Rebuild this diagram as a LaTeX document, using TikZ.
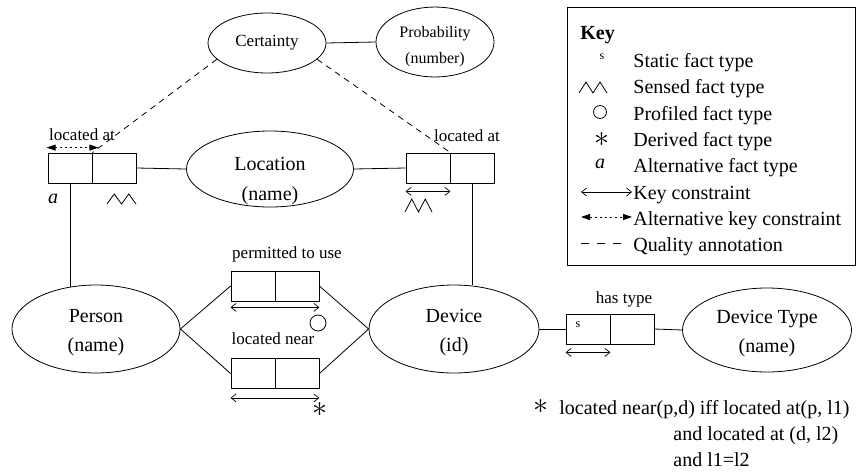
\documentclass[tikz,border=0pt]{standalone}
\usepackage{graphicx}
\usepackage{fontspec}
\setmainfont{Liberation Serif}
\usetikzlibrary{shapes.geometric,arrows.meta,calc}
\newcommand{\topstrut}[1]{\rule{0pt}{#1}}
\begin{document}
\begin{tikzpicture}[x=1pt,y=-1pt,line width=0.8pt,
  ent/.style={draw,ellipse,inner sep=0pt,align=center,font=\fontsize{20}{29}\selectfont},
  role/.style={draw,rectangle,minimum width=44pt,minimum height=30pt,inner sep=0pt},
  lbl/.style={font=\fontsize{17}{20}\selectfont,inner sep=0pt,anchor=base},
  kt/.style={font=\fontsize{20}{24}\selectfont,inner sep=0pt,anchor=base west},
  keyc/.style={{Straight Barb[length=5pt,width=8pt]}-{Straight Barb[length=5pt,width=8pt]},line width=0.7pt},
  altkeyc/.style={{Triangle[length=9pt,width=6pt]}-{Triangle[length=9pt,width=6pt]},dash pattern=on 2pt off 3pt,line width=0.9pt},
  qual/.style={dash pattern=on 6pt off 5pt},
  sym/.style={inner sep=0pt}
]
\useasboundingbox (0,0) rectangle (858,474);

% entity ellipses
\node[ent,font=\fontsize{17}{20}\selectfont,minimum width=118pt,minimum height=60pt] (cert) at (267,43) {Certainty};
\node[ent,font=\fontsize{16}{26}\selectfont,minimum width=118pt,minimum height=64pt] (prob) at (435,42) {\topstrut{20pt}Probability\\(number)};
\node[ent,minimum width=167pt,minimum height=76pt] (loc) at (270,169) {};
\node[font=\fontsize{20}{30}\selectfont,align=center,inner sep=0pt] (loctext) at (270,181) {Location\\(name)};
\node[ent,minimum width=168pt,minimum height=88pt] (person) at (96,329) {\topstrut{21pt}Person\\(name)};
\node[ent,minimum width=170pt,minimum height=88pt] (dev) at (454,329) {\topstrut{21pt}Device\\(id)};
\node[ent,minimum width=169pt,minimum height=84pt] (dtype) at (767,330) {\topstrut{21pt}Device Type\\(name)};

% fact type role boxes
\node[role] (la1) at (70,168) {};
\node[role] (la2) at (114,168) {};
\node[role] (ra1) at (428,168) {};
\node[role] (ra2) at (472,168) {};
\node[role] (p1) at (253,286) {};
\node[role] (p2) at (297,286) {};
\node[role] (n1) at (253,373.5) {};
\node[role] (n2) at (297,373.5) {};
\node[role] (h1) at (588,329) {};
\node[role] (h2) at (632,329) {};
\node[font=\fontsize{12}{12}\selectfont,inner sep=0pt] (hs) at (578,325) {s};

% labels
\node[lbl] (lat1) at (82,140) {located at};
\node[lbl] (lat2) at (467,141) {located at};
\node[lbl] (lperm) at (287,258) {permitted to use};
\node[lbl] (lnear) at (273,344) {located near};
\node[lbl] (lhas) at (624,303) {has type};

% connectors
\draw (cert.east) -- (prob.west);
\draw (la2.east) -- (loc.west);
\draw (loc.east) -- (ra1.west);
\draw (la1.south) -- ([yshift=-2pt]la1.south |- person.north);
\draw (ra2.south) -- (ra2.south |- dev.north);
\draw (person.east) -- (p1.west);
\draw (person.east) -- (n1.west);
\draw (p2.east) -- (dev.west);
\draw (n2.east) -- (dev.west);
\draw (dev.east) -- (h1.west);
\draw (h2.east) -- (dtype.west);
\draw[qual] (cert.198) -- (la1.north east);
\draw[qual] (cert.342) -- (ra1.north east);

% constraints
\draw[altkeyc] ([xshift=-1pt,yshift=5pt]la1.north west) -- ([xshift=6pt,yshift=5pt]la1.north east);
\draw[keyc] ([yshift=-8pt]ra1.south west) -- ([yshift=-8pt]ra1.south east);
\draw[keyc] ([yshift=-6pt]p1.south west) -- ([yshift=-6pt]p2.south east);
\draw[keyc] ([yshift=-9pt]n1.south west) -- ([yshift=-9pt]n2.south east);
\draw[keyc] ([yshift=-8pt]h1.south west) -- ([yshift=-8pt]h1.south east);

% annotations
\draw (107,204) -- (114.25,194) -- (121.5,204) -- (128.75,194) -- (136,204);
\draw (405,212) -- (411.75,199) -- (418.5,212) -- (425.25,199) -- (432,212);
\node[sym,font=\itshape\fontsize{20}{20}\selectfont] (alt) at (53,199) {a};
\node[draw,circle,minimum size=16pt,inner sep=0pt] (prof) at (318,323) {};
\node[sym] (der) at (320,410) {\scalebox{3}{$\ast$}};

% key
\node[draw,rectangle,minimum width=288pt,minimum height=258pt,inner sep=0pt,anchor=north west] (keybox) at (567,7) {};
\node[font=\bfseries\fontsize{20}{20}\selectfont,inner sep=0pt,anchor=base west] (keyt) at (580,39) {Key};
\node[sym,font=\fontsize{12}{12}\selectfont] (ks) at (602,57) {s};
\draw (579,93) -- (586,82) -- (593,93) -- (600,82) -- (607,93);
\node[draw,circle,minimum size=13pt,inner sep=0pt] (kcirc) at (600,112) {};
\node[sym] (kast) at (602,140) {\scalebox{3}{$\ast$}};
\node[sym,font=\itshape\fontsize{20}{20}\selectfont] (ka) at (600,164) {a};
\coordinate (kk1) at (581,192);
\coordinate (kk2) at (632,192);
\draw[keyc] (kk1) -- (kk2);
\coordinate (ka1) at (581,217);
\coordinate (ka2) at (632,217);
\draw[altkeyc] (ka1) -- (ka2);
\coordinate (kq1) at (581,243);
\coordinate (kq2) at (621,243);
\draw[dash pattern=on 8pt off 8pt] (kq1) -- (kq2);
\node[kt] (t1) at (633,67.5) {Static fact type};
\node[kt] (t2) at (633,93.8) {Sensed fact type};
\node[kt] (t3) at (633,120.1) {Profiled fact type};
\node[kt] (t4) at (633,146.4) {Derived fact type};
\node[kt] (t5) at (633,172.7) {Alternative fact type};
\node[kt] (t6) at (633,199) {Key constraint};
\node[kt] (t7) at (633,225.3) {Alternative key constraint};
\node[kt] (t8) at (633,251.6) {Quality annotation};

% footnote
\node[sym] (fast) at (541,407) {\scalebox{3}{$\ast$}};
\node[kt] (f1) at (559,414.5) {located near(p,d) iff located at(p, l1)};
\node[kt] (f2) at (673,440.5) {and located at (d, l2)};
\node[kt] (f3) at (673,466.5) {and l1=l2};
\end{tikzpicture}
\end{document}
